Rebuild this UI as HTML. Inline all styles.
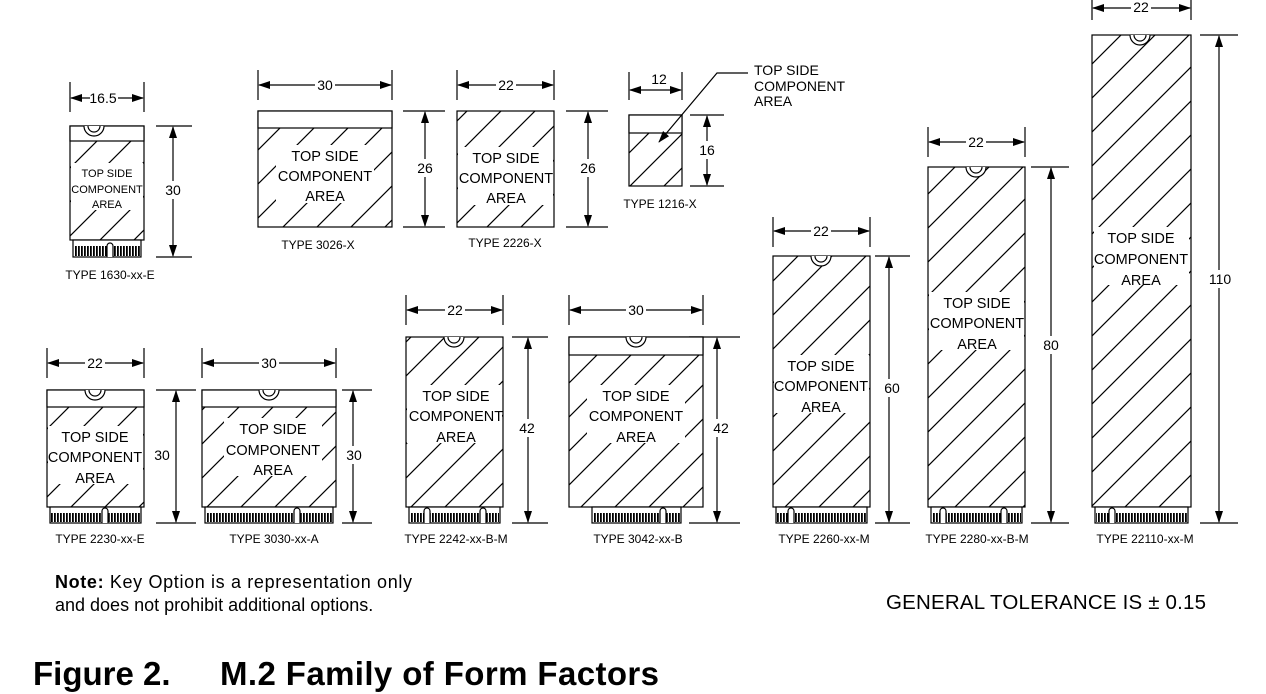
<!DOCTYPE html>
<html><head><meta charset="utf-8"><style>
html,body{margin:0;padding:0;background:#fff;width:1266px;height:694px;overflow:hidden}
svg{display:block}
text{font-family:"Liberation Sans",Arial,sans-serif;fill:#000}
.t{font-size:14.5px;text-anchor:middle}
.s{font-size:11px;text-anchor:middle}
.l{font-size:12px;text-anchor:middle}
.d{font-size:14px;text-anchor:middle}
</style></head><body>
<svg width="1266" height="694" viewBox="0 0 1266 694" xmlns="http://www.w3.org/2000/svg">
<defs>
<pattern id="h" patternUnits="userSpaceOnUse" width="34" height="34">
<path d="M-5,39 L39,-5 M-20,20 L20,-20 M14,54 L54,14" stroke="#000" stroke-width="1.2"/>
</pattern>
<pattern id="tt" patternUnits="userSpaceOnUse" width="3" height="10">
<rect x="0" y="0" width="1.8" height="10" fill="#000"/>
</pattern>
<marker id="a" markerUnits="userSpaceOnUse" markerWidth="12" markerHeight="8" refX="11" refY="4" orient="auto-start-reverse">
<path d="M0,0 L12,4 L0,8 z" fill="#000"/>
</marker>
</defs>
<g stroke="#000" stroke-width="1.2" fill="none">
<path d="M70,82V112 M144,82V112 M156,126H192 M156,257H192"/>
<line x1="71" y1="98" x2="143" y2="98" marker-start="url(#a)" marker-end="url(#a)"/>
<line x1="173" y1="127" x2="173" y2="256" marker-start="url(#a)" marker-end="url(#a)"/>
<path d="M258,70V100 M392,70V100 M403,111H445 M403,227H445"/>
<line x1="259" y1="85" x2="391" y2="85" marker-start="url(#a)" marker-end="url(#a)"/>
<line x1="425" y1="112" x2="425" y2="226" marker-start="url(#a)" marker-end="url(#a)"/>
<path d="M457,70V100 M554,70V100 M566,111H608 M566,227H608"/>
<line x1="458" y1="85" x2="553" y2="85" marker-start="url(#a)" marker-end="url(#a)"/>
<line x1="588" y1="112" x2="588" y2="226" marker-start="url(#a)" marker-end="url(#a)"/>
<path d="M629,72V100 M682,72V100 M690,115H724 M690,186H724"/>
<line x1="630" y1="90" x2="681" y2="90" marker-start="url(#a)" marker-end="url(#a)"/>
<line x1="707" y1="116" x2="707" y2="185" marker-start="url(#a)" marker-end="url(#a)"/>
<path d="M47,348V378 M144,348V378 M156,390H196 M156,523H196"/>
<line x1="48" y1="363" x2="143" y2="363" marker-start="url(#a)" marker-end="url(#a)"/>
<line x1="176" y1="391" x2="176" y2="522" marker-start="url(#a)" marker-end="url(#a)"/>
<path d="M202,348V378 M336,348V378 M342,390H372 M342,523H372"/>
<line x1="203" y1="363" x2="335" y2="363" marker-start="url(#a)" marker-end="url(#a)"/>
<line x1="353" y1="391" x2="353" y2="522" marker-start="url(#a)" marker-end="url(#a)"/>
<path d="M406,295V325 M503,295V325 M512,337H548 M512,523H548"/>
<line x1="407" y1="310" x2="502" y2="310" marker-start="url(#a)" marker-end="url(#a)"/>
<line x1="528" y1="338" x2="528" y2="522" marker-start="url(#a)" marker-end="url(#a)"/>
<path d="M569,295V325 M703,295V325 M689,337H740 M689,523H740"/>
<line x1="570" y1="310" x2="702" y2="310" marker-start="url(#a)" marker-end="url(#a)"/>
<line x1="717" y1="338" x2="717" y2="522" marker-start="url(#a)" marker-end="url(#a)"/>
<path d="M773,217V247 M870,217V247 M875,256H910 M875,523H910"/>
<line x1="774" y1="231" x2="869" y2="231" marker-start="url(#a)" marker-end="url(#a)"/>
<line x1="889" y1="257" x2="889" y2="522" marker-start="url(#a)" marker-end="url(#a)"/>
<path d="M928,127V157 M1025,127V157 M1031,167H1069 M1031,523H1069"/>
<line x1="929" y1="142" x2="1024" y2="142" marker-start="url(#a)" marker-end="url(#a)"/>
<line x1="1051" y1="168" x2="1051" y2="522" marker-start="url(#a)" marker-end="url(#a)"/>
<path d="M1092,0V20 M1191,0V20 M1200,35H1238 M1200,523H1238"/>
<line x1="1093" y1="8" x2="1190" y2="8" marker-start="url(#a)" marker-end="url(#a)"/>
<line x1="1219" y1="36" x2="1219" y2="522" marker-start="url(#a)" marker-end="url(#a)"/>

<rect x="70" y="126" width="74" height="114" fill="url(#h)"/>
<rect x="70" y="126" width="74" height="15" fill="#fff"/>
<rect x="258" y="111" width="134" height="116" fill="url(#h)"/>
<rect x="258" y="111" width="134" height="17" fill="#fff"/>
<rect x="457" y="111" width="97" height="116" fill="url(#h)"/>
<rect x="629" y="115" width="53" height="71" fill="url(#h)"/>
<rect x="629" y="115" width="53" height="18" fill="#fff"/>
<rect x="47" y="390" width="97" height="117" fill="url(#h)"/>
<rect x="47" y="390" width="97" height="17" fill="#fff"/>
<rect x="202" y="390" width="134" height="117" fill="url(#h)"/>
<rect x="202" y="390" width="134" height="17" fill="#fff"/>
<rect x="406" y="337" width="97" height="170" fill="url(#h)"/>
<rect x="569" y="337" width="134" height="170" fill="url(#h)"/>
<rect x="569" y="337" width="134" height="18" fill="#fff"/>
<rect x="773" y="256" width="97" height="251" fill="url(#h)"/>
<rect x="928" y="167" width="97" height="340" fill="url(#h)"/>
<rect x="1092" y="35" width="99" height="472" fill="url(#h)"/>

<path d="M748,73H717 L659,142" marker-end="url(#a)"/>

<g>
<rect x="73" y="240" width="68" height="17" fill="#fff"/><rect x="74" y="246" width="66" height="10" fill="url(#tt)" stroke="none"/>
<rect x="50" y="507" width="91" height="16" fill="#fff"/><rect x="51" y="513" width="89" height="9" fill="url(#tt)" stroke="none"/>
<rect x="205" y="507" width="128" height="16" fill="#fff"/><rect x="206" y="513" width="126" height="9" fill="url(#tt)" stroke="none"/>
<rect x="409" y="507" width="91" height="16" fill="#fff"/><rect x="410" y="513" width="89" height="9" fill="url(#tt)" stroke="none"/>
<rect x="592" y="507" width="89" height="16" fill="#fff"/><rect x="593" y="513" width="87" height="9" fill="url(#tt)" stroke="none"/>
<rect x="776" y="507" width="91" height="16" fill="#fff"/><rect x="777" y="513" width="89" height="9" fill="url(#tt)" stroke="none"/>
<rect x="931" y="507" width="91" height="16" fill="#fff"/><rect x="932" y="513" width="89" height="9" fill="url(#tt)" stroke="none"/>
<rect x="1095" y="507" width="93" height="16" fill="#fff"/><rect x="1096" y="513" width="91" height="9" fill="url(#tt)" stroke="none"/>
</g>
<g fill="#fff">
<path d="M107,257V246 A3,3 0 0 1 113,246 V257"/>
<path d="M102,523V511 A3,3 0 0 1 108,511 V523"/>
<path d="M294,523V511 A3,3 0 0 1 300,511 V523"/>
<path d="M424,523V511 A3,3 0 0 1 430,511 V523"/>
<path d="M480,523V511 A3,3 0 0 1 486,511 V523"/>
<path d="M660,523V511 A3,3 0 0 1 666,511 V523"/>
<path d="M788,523V511 A3,3 0 0 1 794,511 V523"/>
<path d="M940,523V511 A3,3 0 0 1 946,511 V523"/>
<path d="M1001,523V511 A3,3 0 0 1 1007,511 V523"/>
<path d="M1109,523V511 A3,3 0 0 1 1115,511 V523"/>
</g>
<g fill="#fff">
<path d="M84,126 A10,10 0 0 0 104,126"/><path d="M88,126 A6,6 0 0 0 100,126"/>
<path d="M85,390 A10,10 0 0 0 105,390"/><path d="M89,390 A6,6 0 0 0 101,390"/>
<path d="M259,390 A10,10 0 0 0 279,390"/><path d="M263,390 A6,6 0 0 0 275,390"/>
<path d="M444,337 A10,10 0 0 0 464,337"/><path d="M448,337 A6,6 0 0 0 460,337"/>
<path d="M626,337 A10,10 0 0 0 646,337"/><path d="M630,337 A6,6 0 0 0 642,337"/>
<path d="M811,256 A10,10 0 0 0 831,256"/><path d="M815,256 A6,6 0 0 0 827,256"/>
<path d="M966,167 A10,10 0 0 0 986,167"/><path d="M970,167 A6,6 0 0 0 982,167"/>
<path d="M1130,35 A10,10 0 0 0 1150,35"/><path d="M1134,35 A6,6 0 0 0 1146,35"/>
</g>
</g>

<g fill="#fff">
<rect x="71" y="163" width="72" height="47"/>
<rect x="276" y="145" width="98" height="58"/>
<rect x="458" y="147" width="95" height="58"/>
<rect x="48" y="426" width="95" height="58"/>
<rect x="224" y="418" width="98" height="58"/>
<rect x="407" y="385" width="95" height="58"/>
<rect x="587" y="385" width="98" height="58"/>
<rect x="774" y="355" width="95" height="58"/>
<rect x="929" y="292" width="95" height="58"/>
<rect x="1094" y="227" width="95" height="58"/>
<rect x="90" y="90" width="28" height="14"/><rect x="315" y="78" width="20" height="14"/>
<rect x="496" y="78" width="20" height="14"/><rect x="650" y="80" width="20" height="9"/>
<rect x="85" y="356" width="20" height="14"/><rect x="259" y="356" width="20" height="14"/>
<rect x="445" y="303" width="20" height="14"/><rect x="626" y="303" width="20" height="14"/>
<rect x="811" y="224" width="20" height="14"/><rect x="966" y="135" width="20" height="14"/>
<rect x="1131" y="1" width="20" height="14"/>
<rect x="163" y="181" width="20" height="18"/><rect x="415" y="159" width="20" height="18"/>
<rect x="578" y="159" width="20" height="18"/><rect x="697" y="141" width="20" height="18"/>
<rect x="152" y="446" width="20" height="18"/><rect x="343" y="446" width="22" height="18"/>
<rect x="517" y="419" width="22" height="18"/><rect x="710" y="419" width="22" height="18"/>
<rect x="881" y="379" width="22" height="18"/><rect x="1040" y="336" width="22" height="18"/>
<rect x="1206" y="270" width="28" height="18"/>
</g>

<text class="s" x="107" y="177">TOP SIDE</text><text class="s" x="107" y="193">COMPONENT</text><text class="s" x="107" y="208">AREA</text>
<text class="t" x="325" y="161">TOP SIDE</text><text class="t" x="325" y="181">COMPONENT</text><text class="t" x="325" y="201">AREA</text>
<text class="t" x="506" y="163">TOP SIDE</text><text class="t" x="506" y="183">COMPONENT</text><text class="t" x="506" y="203">AREA</text>
<text class="t" x="95" y="442">TOP SIDE</text><text class="t" x="95" y="462">COMPONENT</text><text class="t" x="95" y="483">AREA</text>
<text class="t" x="273" y="434">TOP SIDE</text><text class="t" x="273" y="455">COMPONENT</text><text class="t" x="273" y="475">AREA</text>
<text class="t" x="456" y="401">TOP SIDE</text><text class="t" x="456" y="421">COMPONENT</text><text class="t" x="456" y="442">AREA</text>
<text class="t" x="636" y="401">TOP SIDE</text><text class="t" x="636" y="421">COMPONENT</text><text class="t" x="636" y="442">AREA</text>
<text class="t" x="821" y="371">TOP SIDE</text><text class="t" x="821" y="391">COMPONENT</text><text class="t" x="821" y="412">AREA</text>
<text class="t" x="977" y="308">TOP SIDE</text><text class="t" x="977" y="328">COMPONENT</text><text class="t" x="977" y="349">AREA</text>
<text class="t" x="1141" y="243">TOP SIDE</text><text class="t" x="1141" y="264">COMPONENT</text><text class="t" x="1141" y="285">AREA</text>
<text x="754" y="75" style="font-size:14px">TOP SIDE</text>
<text x="754" y="91" style="font-size:14px">COMPONENT</text>
<text x="754" y="106" style="font-size:14px">AREA</text>

<text class="d" x="103" y="103">16.5</text><text class="d" x="325" y="90">30</text>
<text class="d" x="506" y="90">22</text><text class="d" x="659" y="84">12</text>
<text class="d" x="95" y="368">22</text><text class="d" x="269" y="368">30</text>
<text class="d" x="455" y="315">22</text><text class="d" x="636" y="315">30</text>
<text class="d" x="821" y="236">22</text><text class="d" x="976" y="147">22</text>
<text class="d" x="1141" y="12">22</text>
<text class="d" x="173" y="195">30</text><text class="d" x="425" y="173">26</text>
<text class="d" x="588" y="173">26</text><text class="d" x="707" y="155">16</text>
<text class="d" x="162" y="460">30</text><text class="d" x="354" y="460">30</text>
<text class="d" x="527" y="433">42</text><text class="d" x="721" y="433">42</text>
<text class="d" x="892" y="393">60</text><text class="d" x="1051" y="350">80</text>
<text class="d" x="1220" y="284">110</text>

<text class="l" x="110" y="279">TYPE 1630-xx-E</text>
<text class="l" x="318" y="249">TYPE 3026-X</text>
<text class="l" x="505" y="247">TYPE 2226-X</text>
<text class="l" x="660" y="208">TYPE 1216-X</text>
<text class="l" x="100" y="543">TYPE 2230-xx-E</text>
<text class="l" x="274" y="543">TYPE 3030-xx-A</text>
<text class="l" x="456" y="543">TYPE 2242-xx-B-M</text>
<text class="l" x="638" y="543">TYPE 3042-xx-B</text>
<text class="l" x="824" y="543">TYPE 2260-xx-M</text>
<text class="l" x="977" y="543">TYPE 2280-xx-B-M</text>
<text class="l" x="1145" y="543">TYPE 22110-xx-M</text>

<text x="55" y="588" style="font-size:18px" textLength="357"><tspan font-weight="bold">Note:</tspan> Key Option is a representation only</text>
<text x="55" y="611" style="font-size:18px">and does not prohibit additional options.</text>
<text x="886" y="609" style="font-size:20.5px" textLength="320">GENERAL TOLERANCE IS ± 0.15</text>
<text x="33" y="685" style="font-size:33px;font-weight:bold">Figure 2.</text>
<text x="220" y="685" style="font-size:33px;font-weight:bold" textLength="439">M.2 Family of Form Factors</text>
</svg>
</body></html>
